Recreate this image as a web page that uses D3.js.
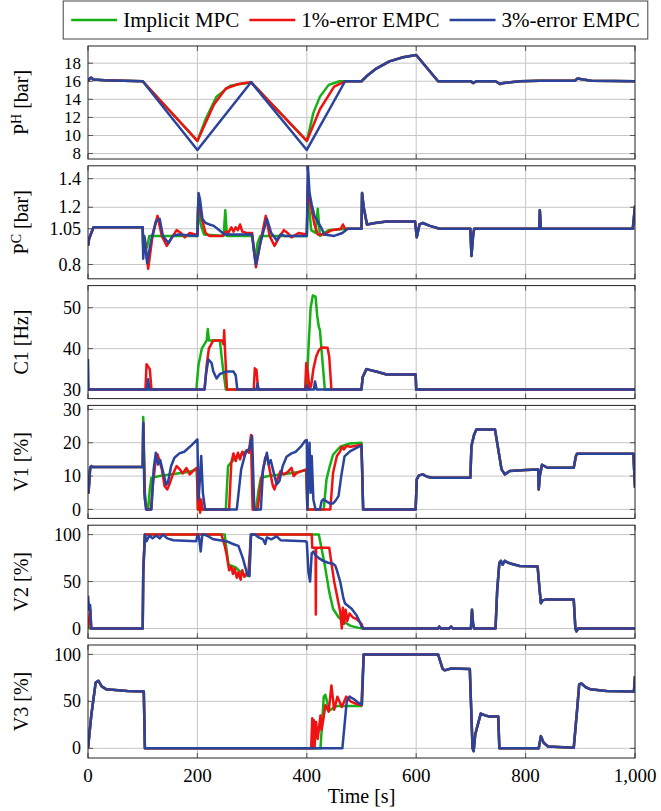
<!DOCTYPE html>
<html>
<head>
<meta charset="utf-8">
<script src="https://cdn.jsdelivr.net/npm/d3@7"></script>
<style>
  body { margin: 0; background: #fff; }
  svg { display: block; font-family: "Liberation Serif", "DejaVu Serif", serif; }
</style>
</head>
<body>
<div id="chart"></div>
<script>
//series names and colours
const seriesNames = ["Implicit MPC", "1%-error EMPC", "3%-error EMPC"];
const seriesColors = ["#14b014", "#f01212", "#2a439c"];
const xTicks = [0, 200, 400, 600, 800, 1000];

//P^H panel, [time, value]
const phStart = [[0,16.0],[3,16.3],[6,16.4],[10,16.2],[30,16.1],[100,16.0]];
const phGreen = [[200,9.4],[215,11.8],[235,14.3],[260,15.5],[298,15.9],[400,9.4],[412,12.5],[424,14.3],[440,15.6],[460,16.0],[500,16.0]];
const phRed = [[200,9.4],[230,13.4],[252,15.2],[275,15.7],[298,15.9],[400,9.4],[424,12.9],[450,15.4],[470,16.0],[500,16.0]];
const phBlue = [[200,8.4],[298,15.9],[400,8.4],[470,16.0],[500,16.0]];
const phEnd = [[512,16.7],[527,17.4],[551,18.2],[576,18.65],[600,18.9],[640,16.0],[700,16.0],[704,15.8],[710,16.0],[745,16.0],[753,15.7],[760,15.8],[790,16.0],[826,16.05],[890,16.05],[895,16.3],[905,16.2],[920,16.05],[1000,16.0]];

//P^C panel
const pcStart = [[0,0.93],[2,0.98],[10,1.06],[100,1.06]];
const pcGreen = [[101,0.9],[104,0.95],[108,0.92],[112,1.0],[200,1.0],[201,1.2],[206,1.08],[212,1.01],[248,1.0],[251,1.18],[254,1.0],[300,1.0],[302,0.95],[306,0.84],[310,0.95],[315,1.0],[400,1.0],[402,1.3],[408,1.04],[416,1.02],[420,1.19],[424,1.0],[440,1.04],[475,1.05],[500,1.05]];
const pcRed = [[101,0.92],[104,0.98],[110,0.77],[118,1.0],[127,1.14],[135,1.0],[144,0.93],[152,0.98],[162,1.04],[170,1.02],[177,0.99],[186,1.02],[196,1.01],[200,1.01],[202,1.25],[208,1.12],[215,1.02],[222,1.0],[245,1.0],[252,1.03],[256,1.02],[262,1.06],[266,1.03],[270,1.06],[274,1.04],[278,1.08],[282,1.03],[290,1.02],[300,1.02],[302,0.95],[307,0.78],[315,0.95],[325,1.14],[332,1.0],[341,0.93],[348,0.98],[358,1.04],[365,1.02],[372,0.99],[385,1.02],[400,1.01],[402,1.35],[408,1.2],[414,1.08],[420,1.01],[432,1.01],[445,1.04],[462,1.05],[466,1.08],[470,1.05],[500,1.05]];
const pcBlue = [[101,0.84],[103,1.0],[108,0.81],[115,0.96],[124,1.1],[131,1.12],[137,1.0],[147,0.95],[155,1.0],[165,1.01],[200,1.0],[202,1.3],[205,1.25],[209,1.12],[215,1.09],[222,1.08],[230,1.07],[240,1.04],[250,1.01],[300,1.01],[303,0.9],[307,0.8],[315,0.95],[327,1.12],[335,1.02],[345,0.97],[352,1.01],[360,1.0],[400,1.0],[402,1.49],[405,1.3],[409,1.22],[414,1.14],[420,1.1],[426,1.06],[432,1.01],[450,1.0],[465,1.02],[475,1.05],[500,1.05]];
const pcEnd = [[501,1.3],[504,1.2],[510,1.08],[525,1.09],[546,1.1],[598,1.1],[601,0.99],[606,1.08],[612,1.09],[625,1.07],[643,1.05],[699,1.05],[701,0.86],[704,1.0],[706,1.05],[825,1.05],[826,1.18],[828,1.05],[996,1.05],[1000,1.21]];

//C1 panel
const c1Green = [[0,30],[198,30],[202,36],[208,40],[217,42],[219,44.8],[221,42],[241,42],[246,36],[252,30],[400,30],[403,40],[407,50],[411,53],[416,52.7],[419,48],[422,45.3],[424,44.5],[428,38],[433,30],[500,30]];
const c1Red = [[0,30],[105,30],[107,36.2],[110,35.6],[113,35],[116,30],[213,30],[217,36],[221,40],[229,42],[245,42],[248,41],[249,44.5],[250,41],[254,30],[303,30],[305,35.2],[308,34.8],[311,30],[397,30],[399,36.5],[402,34],[405,30],[408,31],[412,35],[417,38],[422,39.6],[427,40.3],[438,40.2],[441,38],[445,30],[500,30]];
const c1Blue = [[0,37.5],[1,30],[108,30],[110,32.5],[112,30],[213,30],[216,34],[220,37.4],[226,36.5],[229,34.5],[235,32.7],[241,33.8],[253,34.4],[266,34.4],[270,33.5],[273,30],[308,30],[310,31.5],[312,30],[399,30],[400,31],[402,30],[413,30],[415,32],[418,30],[500,30]];
const c1End = [[502,33],[509,35],[530,34.3],[546,33.7],[599,33.7],[600,30],[1000,30]];

//V1 panel
const v1Start = [[0,7],[1,5],[4,12.5],[6,13],[8,12.7],[100,12.7]];
const v1Green = [[101,27.7],[104,5],[107,0],[110,0],[113,6],[116,9.5],[131,10],[160,10.7],[185,11.3],[199,12],[201,0],[252,0],[256,13],[265,14.7],[284,17],[299,18.2],[302,0],[307,0],[312,6],[316,9.5],[330,10],[360,10.6],[385,11.2],[399,11.8],[401,0],[431,0],[436,9],[442,13],[448,16.4],[461,18.8],[479,19.8],[500,20],[503,0]];
const v1Red = [[101,26],[104,3],[107,0],[115,0],[119,8],[124,15],[127,16.5],[130,15],[135,12],[140,7],[145,6],[150,8],[155,10.5],[162,13],[168,12],[173,10.8],[180,12.4],[186,10.5],[192,11.5],[199,12.5],[201,0],[203,4],[205,-1],[207,3],[209,0],[258,0],[262,14],[266,16.8],[270,14.5],[274,17],[278,15],[282,17.3],[286,16],[290,17.8],[294,17],[298,22.3],[301,0],[310,0],[316,8],[324,15.5],[327,16.3],[332,12],[338,7],[341,6],[346,9],[352,11.5],[358,10.5],[365,11.2],[372,12.5],[376,10],[382,11],[390,11.5],[399,12],[401,0],[443,0],[448,11],[455,16],[461,17.4],[464,18.8],[468,18],[472,19],[480,18.8],[500,19.4],[503,0]];
const v1Blue = [[101,26],[103,5],[106,0],[116,0],[120,12],[124,17],[128,13.5],[132,14.8],[136,12],[143,7.4],[146,8],[152,13],[158,15.5],[167,16.8],[176,17.3],[189,19.2],[200,21],[202,3],[205,10],[207,16],[210,5],[214,0],[272,0],[280,12],[288,17],[295,18.2],[300,22],[304,0],[316,0],[320,12],[327,17],[330,13.5],[334,14.8],[338,12],[345,7.5],[350,8.5],[356,13],[363,15.8],[372,16.8],[380,17.3],[390,19],[397,20.6],[400,20.8],[401,0],[403,10],[405,20],[407,5],[409,16],[412,3],[416,0],[424,0],[427,2.4],[430,3],[436,2.4],[442,1.8],[448,1.8],[452,2.5],[458,4],[463,10],[469,15.9],[479,17.4],[490,18.4],[497,19],[500,19.2],[503,0]];
const v1End = [[599,0],[601,9],[605,10.2],[612,10.5],[620,9.8],[630,9.5],[699,9.5],[701,19],[706,22.5],[710,24],[744,24],[750,18],[756,12],[762,10.5],[771,11.5],[800,11.8],[823,12],[824,6],[826,10],[830,13.4],[840,12.5],[888,12.5],[892,16],[894,16.7],[997,16.7],[1000,6.5]];

//V2 panel
const v2Green = [[0,2],[3,0],[100,0],[101,60],[104,100],[250,100],[253,85],[257,68],[270,65],[283,58],[292,56],[295,56],[298,100],[422,100],[433,67],[441,39],[448,21],[458,12],[470,6.4],[480,2.8],[495,0.7],[502,0]];
const v2Red = [[0,0],[4,20],[6,0],[100,0],[101,60],[104,100],[244,100],[250,88],[253,80],[258,62],[262,66],[265,58],[268,64],[272,54],[275,60],[279,52],[282,62],[286,55],[289,58],[293,57],[298,100],[409,100],[410,86],[416,86],[416.5,15],[417,86],[441,86],[450,50],[461,18],[464,0],[466,22],[468,5],[471,20],[474,8],[478,16],[484,12],[491,10],[500,5],[503,0]];
const v2Blue = [[0,35],[2,20],[4,25],[6,0],[100,0],[101,60],[104,100],[107,93],[112,99],[118,96],[125,99],[131,96],[137,100],[145,96],[156,94],[198,93],[200,100],[203,97],[206,82],[209,100],[213,100],[220,98],[229,95],[253,93],[265,90],[275,88],[283,75],[290,60],[292,57],[295,56],[298,100],[305,100],[312,97],[320,95],[324,90],[327,97],[335,95],[345,98],[352,94],[397,93],[400,92],[403,60],[406,50],[409,80],[412,82],[416,78],[422,75],[430,72],[439,70],[448,69],[452,67],[455,62],[461,50],[467,32],[470,26.6],[482,21],[491,14],[497,7],[500,2],[503,0]];
const v2End = [[640,0],[642,2],[645,0],[660,0],[664,2],[667,0],[700,0],[702,20],[704,5],[706,0],[745,0],[748,40],[752,70],[755,72],[758,68],[762,72],[768,70],[774,69],[789,66.5],[822,66],[825,45],[828,27],[831,30],[838,31],[888,31],[891,0],[893,-3],[896,0],[1000,0]];

//V3 panel
const v3Start = [[0,0],[6,35],[14,70],[19,72],[25,66],[33,63],[72,61],[102,60.5],[104,0],[400,0]];
const v3Green = [[425,0],[431,55],[434,57],[441,40],[448,43],[455,45],[500,45],[504,100]];
const v3Red = [[408,0],[410,32],[411,0],[413,30],[414,0],[417,28],[420,10],[425,35],[427,19.5],[430,30],[434,46],[440,39],[445,67],[450,41],[456,55],[464,44],[472,55],[480,50],[487,48],[500,46],[504,100]];
const v3Blue = [[465,0],[473,50],[478,55],[487,52],[495,48],[501,47],[504,100]];
const v3End = [[640,100],[648,85],[652,83],[664,85],[698,84.5],[703,0],[705,-3],[708,15],[718,37],[726,35],[733,34],[750,34],[752,0],[824,0],[828,13],[833,6],[841,2],[888,0.5],[894,40],[898,68],[902,69],[910,65],[918,63],[948,61],[998,60.5],[1000,77]];

//panel setup
const panels = [
  { label: ["P", "H", " [bar]"], domain: [7.4, 19.9], ticks: [8,10,12,14,16,18], fmt: d3.format("d"),
    series: [phStart.concat(phGreen, phEnd), phStart.concat(phRed, phEnd), phStart.concat(phBlue, phEnd)] },
  { label: ["P", "C", " [bar]"], domain: [0.70, 1.49], ticks: [0.8,1.05,1.2,1.4], fmt: d => String(d),
    series: [pcStart.concat(pcGreen, pcEnd), pcStart.concat(pcRed, pcEnd), pcStart.concat(pcBlue, pcEnd)] },
  { label: ["C1 [Hz]"], domain: [27.8, 55.4], ticks: [30,40,50], fmt: d3.format("d"),
    series: [c1Green.concat(c1End), c1Red.concat(c1End), c1Blue.concat(c1End)] },
  { label: ["V1 [%]"], domain: [-2.7, 31.2], ticks: [0,10,20,30], fmt: d3.format("d"),
    series: [v1Start.concat(v1Green, v1End), v1Start.concat(v1Red, v1End), v1Start.concat(v1Blue, v1End)] },
  { label: ["V2 [%]"], domain: [-10.3, 110], ticks: [0,50,100], fmt: d3.format("d"),
    series: [v2Green.concat(v2End), v2Red.concat(v2End), v2Blue.concat(v2End)] },
  { label: ["V3 [%]"], domain: [-10.3, 110], ticks: [0,50,100], fmt: d3.format("d"),
    series: [v3Start.concat(v3Green, v3End), v3Start.concat(v3Red, v3End), v3Start.concat(v3Blue, v3End)] }
];

const W = 661, H = 811;
const left = 88, right = 635;
const top0 = 46, step = 119.8, ph = 113;
const fontSize = 18;

const svg = d3.select("#chart").append("svg").attr("width", W).attr("height", H);

const x = d3.scaleLinear().domain([0, 1000]).range([left, right]);

panels.forEach(function(p, i){
  const top = top0 + i * step;
  const y = d3.scaleLinear().domain(p.domain).range([top + ph, top]);
  const g = svg.append("g");

  //grid
  g.append("g").selectAll("line").data(p.ticks).join("line")
    .attr("x1", left).attr("x2", right)
    .attr("y1", d => y(d)).attr("y2", d => y(d))
    .attr("stroke", "#c6c6c6").attr("stroke-width", 1);
  g.append("g").selectAll("line").data(xTicks.slice(1, -1)).join("line")
    .attr("x1", d => x(d)).attr("x2", d => x(d))
    .attr("y1", top).attr("y2", top + ph)
    .attr("stroke", "#c6c6c6").attr("stroke-width", 1);

  //ticks inside on all sides
  const tickCol = "#555";
  g.append("g").selectAll("line").data(p.ticks).join("line")
    .attr("x1", left).attr("x2", left + 5).attr("y1", d => y(d)).attr("y2", d => y(d))
    .attr("stroke", tickCol);
  g.append("g").selectAll("line").data(p.ticks).join("line")
    .attr("x1", right - 5).attr("x2", right).attr("y1", d => y(d)).attr("y2", d => y(d))
    .attr("stroke", tickCol);
  g.append("g").selectAll("line").data(xTicks).join("line")
    .attr("x1", d => x(d)).attr("x2", d => x(d)).attr("y1", top).attr("y2", top + 5)
    .attr("stroke", tickCol);
  g.append("g").selectAll("line").data(xTicks).join("line")
    .attr("x1", d => x(d)).attr("x2", d => x(d)).attr("y1", top + ph - 5).attr("y2", top + ph)
    .attr("stroke", tickCol);

  //lines
  const clipId = "clip" + i;
  svg.append("clipPath").attr("id", clipId).append("rect")
    .attr("x", left).attr("y", top).attr("width", right - left).attr("height", ph);
  const line = d3.line().x(d => x(d[0])).y(d => y(d[1]));
  g.append("g").attr("clip-path", `url(#${clipId})`)
    .selectAll("path").data(p.series).join("path")
    .attr("d", line)
    .attr("fill", "none")
    .attr("stroke", (d, k) => seriesColors[k])
    .attr("stroke-width", 2.5)
    .attr("stroke-linejoin", "round");

  //frame
  g.append("rect").attr("x", left).attr("y", top).attr("width", right - left).attr("height", ph)
    .attr("fill", "none").attr("stroke", "#222").attr("stroke-width", 1);

  //y tick labels
  g.append("g").selectAll("text").data(p.ticks).join("text")
    .attr("x", left - 7).attr("y", d => y(d)).attr("dy", "0.34em")
    .attr("text-anchor", "end").attr("font-size", i === 0 ? 17 : fontSize)
    .text(d => p.fmt(d));

  //y label
  const lab = g.append("text")
    .attr("transform", `translate(22,${top + ph / 2}) rotate(-90)`)
    .attr("text-anchor", "middle").attr("dy", "0.3em")
    .attr("font-size", 20);
  if (p.label.length === 3) {
    lab.append("tspan").text(p.label[0]);
    lab.append("tspan").attr("baseline-shift", "super").attr("font-size", 14).text(p.label[1]);
    lab.append("tspan").text(p.label[2]);
  } else {
    lab.text(p.label[0]);
  }

  //x tick labels for last panel
  if (i === panels.length - 1) {
    g.append("g").selectAll("text").data(xTicks).join("text")
      .attr("x", d => x(d)).attr("y", top + ph + 24)
      .attr("text-anchor", "middle").attr("font-size", 19)
      .text(d => d3.format(",")(d));
    g.append("text").attr("x", (left + right) / 2).attr("y", top + ph + 45)
      .attr("text-anchor", "middle").attr("font-size", 20)
      .text("Time [s]");
  }
});

//legend
const lg = svg.append("g");
const lgBox = lg.append("rect").attr("fill", "#fff").attr("stroke", "#444").attr("stroke-width", 1);
let cx = 0;
const lineLen = 46;
seriesNames.forEach(function(name, k){
  lg.append("line").attr("x1", cx).attr("x2", cx + lineLen).attr("y1", 20).attr("y2", 20)
    .attr("stroke", seriesColors[k]).attr("stroke-width", 2.5);
  const t = lg.append("text").attr("x", cx + lineLen + 6).attr("y", 27)
    .attr("font-size", 21).text(name);
  cx += lineLen + 6 + t.node().getComputedTextLength() + 10;
});
const lgW = cx - 10;
const lgX = 355.5 - lgW / 2;
lg.selectAll("line, text").attr("transform", `translate(${lgX},0)`);
lgBox.attr("x", lgX - 8).attr("y", 1).attr("width", lgW + 16).attr("height", 38);
</script>
</body>
</html>
